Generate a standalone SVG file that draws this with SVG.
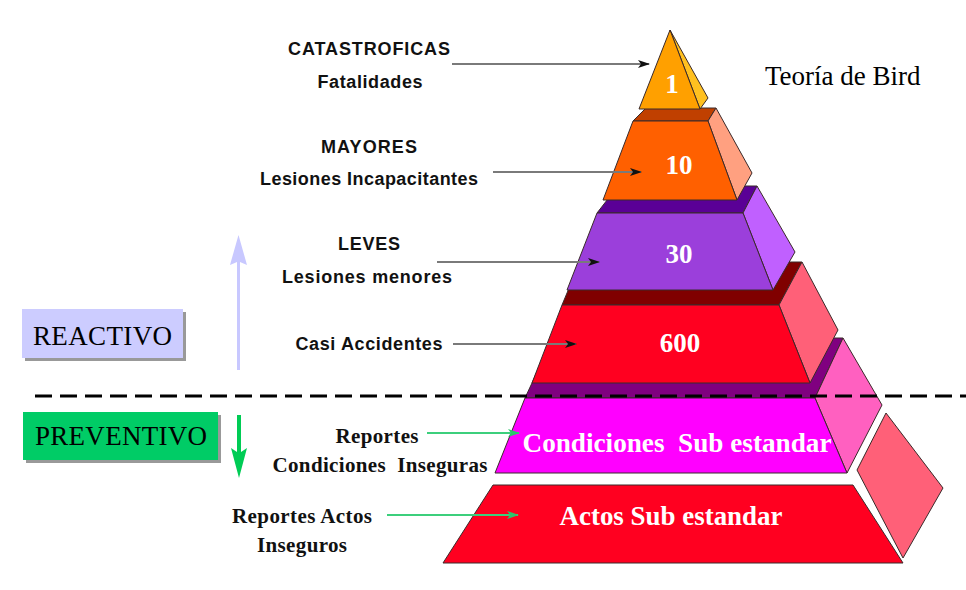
<svg xmlns="http://www.w3.org/2000/svg" width="966" height="590" viewBox="0 0 966 590">
<defs>
<style>
.face{stroke:#3a2a2a;stroke-width:1;stroke-linejoin:round}
.num{font-family:"Liberation Serif","Times New Roman",serif;font-weight:bold;fill:#fff;text-anchor:middle;white-space:pre}
.lab{font-family:"Liberation Sans",Arial,sans-serif;font-weight:bold;font-size:18px;fill:#111;text-anchor:middle}
.ser{font-family:"Liberation Serif","Times New Roman",serif;font-weight:bold;font-size:21px;fill:#111;text-anchor:middle;white-space:pre}
.box{font-family:"Liberation Serif","Times New Roman",serif;font-size:27px;fill:#000}
.gray{stroke:#7a7a7a;stroke-width:2;fill:none;marker-end:url(#ah)}
.green{stroke:#3ccf7c;stroke-width:2;fill:none;marker-end:url(#ag)}
</style>
<marker id="ah" markerWidth="12" markerHeight="10" refX="11" refY="5" orient="auto" markerUnits="userSpaceOnUse">
<path d="M0,1 L12,5 L0,9 L3,5 Z" fill="#111"/>
</marker>
<marker id="ag" markerWidth="12" markerHeight="10" refX="11" refY="5" orient="auto" markerUnits="userSpaceOnUse">
<path d="M0,1 L12,5 L0,9 L3,5 Z" fill="#2cc46c"/>
</marker>
</defs>
<rect width="966" height="590" fill="#fff"/>

<g id="level-actos">
<polygon class="face" points="857,470 886,413 943,488 903,558" fill="#ff6078" stroke="#777"/>
<polygon class="face" points="493,485 853,485 903,563 443,563" fill="#ff0020" stroke="#888"/>
<text class="num" x="671" y="525" font-size="28" textLength="223" lengthAdjust="spacingAndGlyphs">Actos Sub estandar</text>
</g>

<g id="level-condiciones">
<polygon class="face" points="525,398 815,398 843,338 552,338 532,383" fill="#800080"/>
<polygon class="face" points="815,398 843,338 882,405 847,473" fill="#ff60c0"/>
<polygon class="face" points="525,398 815,398 847,473 495,473" fill="#ff00ff"/>
<text class="num" x="677" y="452" font-size="28" textLength="309" lengthAdjust="spacingAndGlyphs" xml:space="preserve">Condiciones  Sub estandar</text>
</g>

<g id="level-600">
<polygon class="face" points="562,305 779,305 802,262 580,262" fill="#800000"/>
<polygon class="face" points="779,305 802,262 838,330 810,383" fill="#ff6078"/>
<polygon class="face" points="562,305 779,305 810,383 532,383" fill="#ff0020"/>
<text class="num" x="680" y="352" font-size="27">600</text>
</g>

<g id="level-30">
<polygon class="face" points="597,213 743,213 757,186 618,186" fill="#5a0096"/>
<polygon class="face" points="743,213 757,186 795,252 773,290" fill="#c060ff"/>
<polygon class="face" points="597,213 743,213 773,290 567,290" fill="#9b3fdb"/>
<text class="num" x="679" y="263" font-size="27">30</text>
</g>

<g id="level-10">
<polygon class="face" points="633,121 708,121 716,108 646,108" fill="#c04000"/>
<polygon class="face" points="708,121 716,108 752,173 737,200" fill="#ffa080"/>
<polygon class="face" points="633,121 708,121 737,200 603,200" fill="#ff6000"/>
<text class="num" x="679" y="174" font-size="27">10</text>
</g>

<g id="level-1">
<polygon class="face" points="670,30 708,98 700,109" fill="#ffc020"/>
<polygon class="face" points="670,30 700,109 639,109" fill="#ffa000"/>
<text class="num" x="672" y="93" font-size="27">1</text>
</g>

<g id="divider">
<line x1="35" y1="396" x2="966" y2="396" stroke="#000" stroke-width="3" stroke-dasharray="17 8"/>
</g>

<g id="title">
<text x="765" y="85" font-family="Liberation Serif,'Times New Roman',serif" font-size="27" fill="#000">Teoría de Bird</text>
</g>

<g id="labels">
<text class="lab" x="369" y="55" textLength="162">CATASTROFICAS</text>
<text class="lab" x="370" y="88" textLength="105">Fatalidades</text>
<text class="lab" x="369" y="153" textLength="96">MAYORES</text>
<text class="lab" x="369" y="185" textLength="218">Lesiones Incapacitantes</text>
<text class="lab" x="369" y="250" textLength="62">LEVES</text>
<text class="lab" x="367" y="283" textLength="170">Lesiones menores</text>
<text class="lab" x="369" y="350" textLength="147">Casi Accidentes</text>
<text class="ser" x="377" y="443" textLength="83">Reportes</text>
<text class="ser" x="380" y="472" textLength="215" xml:space="preserve">Condiciones  Inseguras</text>
<text class="ser" x="302" y="523" textLength="140">Reportes Actos</text>
<text class="ser" x="302" y="552" textLength="90">Inseguros</text>
</g>

<g id="reactivo">
<rect x="25" y="312" width="161" height="49" fill="#999"/>
<rect x="22" y="309" width="161" height="49" fill="#ccccff"/>
<text class="box" x="33" y="345" textLength="139">REACTIVO</text>
</g>

<g id="preventivo">
<rect x="26" y="415" width="195" height="48" fill="#999"/>
<rect x="23" y="412" width="195" height="48" fill="#00cc66"/>
<text class="box" x="35" y="445" textLength="172">PREVENTIVO</text>
</g>

<g id="connectors">
<line class="gray" x1="452" y1="64" x2="649" y2="64"/>
<line class="gray" x1="493" y1="172" x2="641" y2="172"/>
<line class="gray" x1="437" y1="262" x2="599" y2="262"/>
<line class="gray" x1="453" y1="344" x2="576" y2="344"/>
<line class="green" x1="427" y1="433" x2="519" y2="433"/>
<line class="green" x1="387" y1="515" x2="518" y2="515"/>
<path d="M237,370 L237,262 L230,265 L238.5,235 L247,265 L240,262 L240,370 Z" fill="#c8c8ff"/>
<path d="M237,415 L241,415 L241,452 L247,448 L239,478 L231,448 L237,452 Z" fill="#00cc55"/>
</g>
</svg>
